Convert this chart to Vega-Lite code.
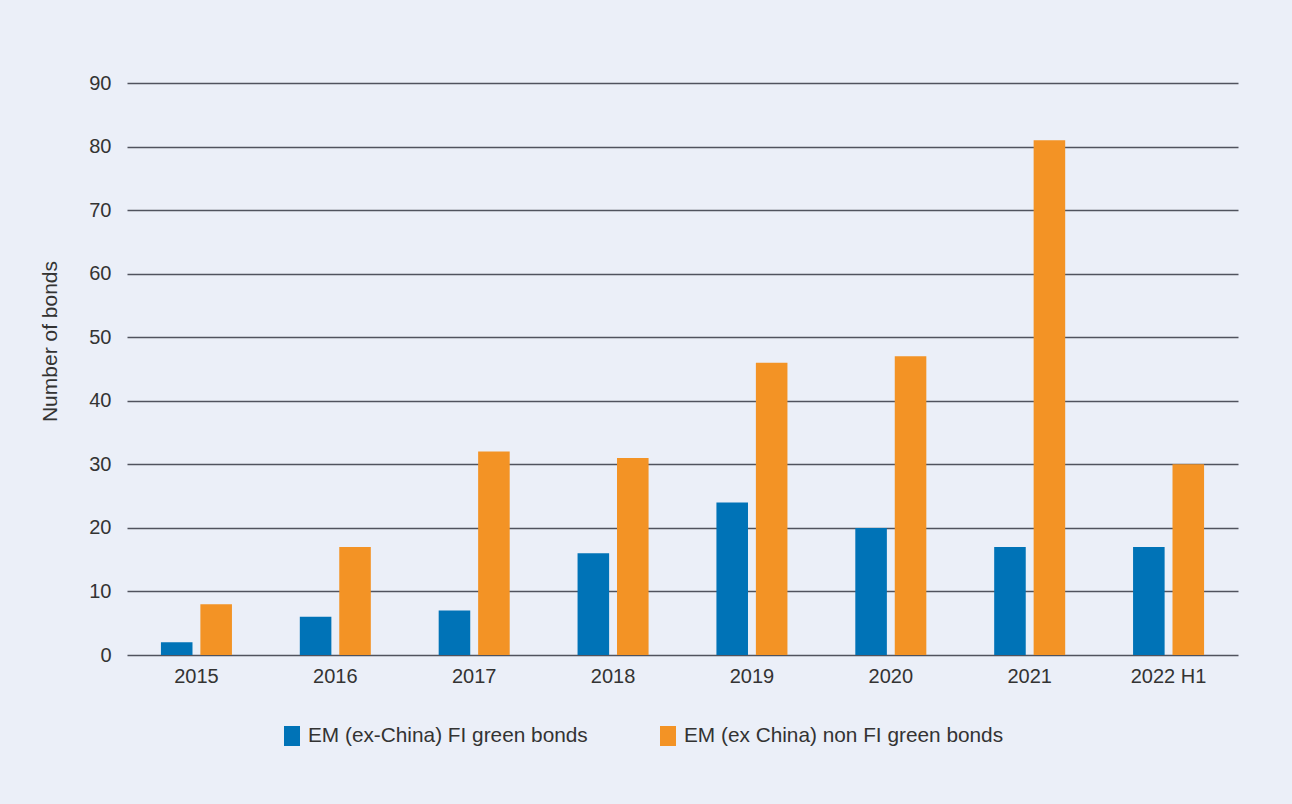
{
  "$schema": "https://vega.github.io/schema/vega-lite/v6.json",
  "autosize": {"type": "none"},
  "width": 1111,
  "height": 572,
  "padding": {"left": 127, "top": 83, "right": 54, "bottom": 149},
  "background": "#EBEFF8",
  "config": {
    "font": "Liberation Sans",
    "view": {"stroke": null},
    "axis": {"labelColor": "#333333", "titleColor": "#333333", "labelFontSize": 20, "titleFontSize": 21, "titleFontWeight": "normal"}
  },
  "data": {
    "values": [
      {"period": "2015", "series": "EM (ex-China) FI green bonds", "bonds": 2},
      {"period": "2015", "series": "EM (ex China) non FI green bonds", "bonds": 8},
      {"period": "2016", "series": "EM (ex-China) FI green bonds", "bonds": 6},
      {"period": "2016", "series": "EM (ex China) non FI green bonds", "bonds": 17},
      {"period": "2017", "series": "EM (ex-China) FI green bonds", "bonds": 7},
      {"period": "2017", "series": "EM (ex China) non FI green bonds", "bonds": 32},
      {"period": "2018", "series": "EM (ex-China) FI green bonds", "bonds": 16},
      {"period": "2018", "series": "EM (ex China) non FI green bonds", "bonds": 31},
      {"period": "2019", "series": "EM (ex-China) FI green bonds", "bonds": 24},
      {"period": "2019", "series": "EM (ex China) non FI green bonds", "bonds": 46},
      {"period": "2020", "series": "EM (ex-China) FI green bonds", "bonds": 20},
      {"period": "2020", "series": "EM (ex China) non FI green bonds", "bonds": 47},
      {"period": "2021", "series": "EM (ex-China) FI green bonds", "bonds": 17},
      {"period": "2021", "series": "EM (ex China) non FI green bonds", "bonds": 81},
      {"period": "2022 H1", "series": "EM (ex-China) FI green bonds", "bonds": 17},
      {"period": "2022 H1", "series": "EM (ex China) non FI green bonds", "bonds": 30}
    ]
  },
  "mark": {"type": "bar"},
  "encoding": {
    "x": {
      "field": "period",
      "type": "nominal",
      "sort": null,
      "scale": {"paddingInner": 0, "paddingOuter": 0},
      "axis": {"title": null, "labelAngle": 0, "domain": false, "ticks": false, "labelPadding": 11}
    },
    "xOffset": {
      "field": "series",
      "type": "nominal",
      "sort": null,
      "scale": {"paddingInner": 0.2, "paddingOuter": 0.86}
    },
    "y": {
      "field": "bonds",
      "type": "quantitative",
      "scale": {"domain": [0, 90]},
      "axis": {
        "title": "Number of bonds",
        "values": [0, 10, 20, 30, 40, 50, 60, 70, 80, 90],
        "domain": false,
        "ticks": false,
        "labelPadding": 16,
        "titlePadding": 28,
        "titleY": 258,
        "gridColor": "#50535E",
        "gridWidth": 1.3,
        "gridOpacity": 1
      }
    },
    "color": {
      "field": "series",
      "type": "nominal",
      "sort": null,
      "scale": {"range": ["#0073B7", "#F39325"]},
      "legend": {
        "title": null,
        "orient": "none",
        "direction": "horizontal",
        "legendX": 145,
        "legendY": 633,
        "symbolType": "M-0.4,-0.5H0.4V0.5H-0.4Z",
        "symbolSize": 1600,
        "symbolOpacity": 1,
        "symbolStrokeWidth": 0,
        "labelFontSize": 20.8,
        "labelColor": "#333333",
        "labelOffset": -4,
        "columnPadding": 60,
        "labelLimit": 400
      }
    }
  }
}
